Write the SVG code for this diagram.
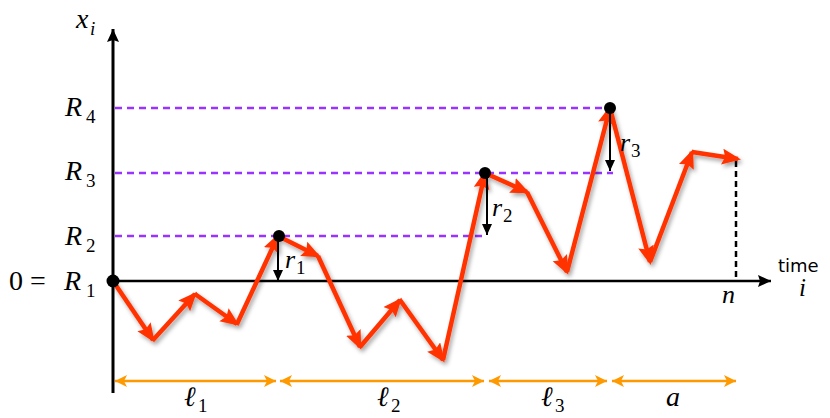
<svg xmlns="http://www.w3.org/2000/svg" width="830" height="418" viewBox="0 0 830 418">
<style>
.dash{stroke:#9933ff;stroke-width:2.5;stroke-dasharray:7,5;fill:none}
.walk{stroke:#ff3300;stroke-width:4.5;fill:none;marker-end:url(#rh)}
.ax{stroke:#000;fill:none}
.dim{stroke:#ff9900;stroke-width:2.5;fill:none;marker-start:url(#oh);marker-end:url(#oh)}
.ra{stroke:#000;stroke-width:2;fill:none;marker-end:url(#bh)}
</style>
<defs>
<marker id="rh" markerUnits="userSpaceOnUse" markerWidth="22" markerHeight="18" refX="16" refY="8" orient="auto"><path d="M0,0 L19,8 L0,16 L3,8 z" fill="#ff3300"/></marker>
<marker id="bh" markerUnits="userSpaceOnUse" markerWidth="14" markerHeight="12" refX="11" refY="5" orient="auto"><path d="M0,0 L11,5 L0,10 z" fill="#000"/></marker>
<marker id="ah" markerUnits="userSpaceOnUse" markerWidth="16" markerHeight="14" refX="13" refY="6" orient="auto"><path d="M0,0 L13,6 L0,12 L2,6 z" fill="#000"/></marker>
<marker id="oh" markerUnits="userSpaceOnUse" markerWidth="16" markerHeight="14" refX="12" refY="6" orient="auto-start-reverse"><path d="M0,0 L12,6 L0,12 L3,6 z" fill="#ff9900"/></marker>
<filter id="sh" x="-10%" y="-10%" width="120%" height="130%"><feDropShadow dx="2" dy="3" stdDeviation="2" flood-color="#000" flood-opacity="0.35"/></filter>
</defs>

<g id="axes">
<line class="ax" x1="113" y1="393" x2="113" y2="29" stroke-width="3" marker-end="url(#ah)"/>
<line class="ax" x1="113" y1="281" x2="771" y2="281" stroke-width="2.5" marker-end="url(#ah)"/>
<g font-family="Liberation Serif, DejaVu Serif, serif" fill="#000">
<text x="76" y="28" font-size="28" font-style="italic">x</text><text x="90" y="35" font-size="19" font-style="italic">i</text>
<text x="799" y="296" font-size="25" font-style="italic">i</text>
</g>
<text x="778" y="272" font-family="DejaVu Sans, Liberation Sans, sans-serif" font-size="18">time</text>
</g>

<g id="levels">
<line class="dash" x1="115" y1="108" x2="610" y2="108"/>
<line class="dash" x1="115" y1="173" x2="613" y2="173"/>
<line class="dash" x1="115" y1="236" x2="487" y2="236"/>
<g font-family="Liberation Serif, DejaVu Serif, serif" fill="#000">
<text x="65" y="116" font-size="28" font-style="italic">R</text><text x="86" y="123" font-size="19">4</text>
<text x="65" y="180" font-size="28" font-style="italic">R</text><text x="86" y="187" font-size="19">3</text>
<text x="65" y="245" font-size="28" font-style="italic">R</text><text x="86" y="252" font-size="19">2</text>
<text x="9" y="290" font-size="28">0</text><text x="30" y="290" font-size="28">=</text>
<text x="64" y="290" font-size="28" font-style="italic">R</text><text x="86" y="297" font-size="19">1</text>
</g>
</g>

<g id="walk" filter="url(#sh)">
<path class="walk" d="M113,281 L153,340"/>
<path class="walk" d="M153,340 L195,294"/>
<path class="walk" d="M195,294 L237,324"/>
<path class="walk" d="M237,324 L278,236"/>
<path class="walk" d="M278,236 L318,256"/>
<path class="walk" d="M318,256 L360,347"/>
<path class="walk" d="M360,347 L400,300"/>
<path class="walk" d="M400,300 L443,360"/>
<path class="walk" d="M443,360 L485,173"/>
<path class="walk" d="M485,173 L527,192"/>
<path class="walk" d="M527,192 L567,272"/>
<path class="walk" d="M567,272 L610,108"/>
<path class="walk" d="M610,108 L650,262"/>
<path class="walk" d="M650,262 L692,152"/>
<path class="walk" d="M692,152 L738,159"/>
</g>

<g id="records">
<circle cx="113" cy="281" r="6.5" fill="#000"/>
<circle cx="279" cy="236" r="6" fill="#000"/>
<circle cx="485" cy="173" r="6" fill="#000"/>
<circle cx="610" cy="108" r="6" fill="#000"/>
</g>

<g id="ranges">
<line class="ra" x1="278" y1="240" x2="278" y2="281"/>
<line class="ra" x1="487" y1="177" x2="487" y2="235"/>
<line class="ra" x1="610" y1="112" x2="610" y2="171"/>
<g font-family="Liberation Serif, DejaVu Serif, serif" fill="#000">
<text x="285" y="268" font-size="26" font-style="italic">r</text><text x="296" y="274" font-size="19">1</text>
<text x="492" y="216" font-size="26" font-style="italic">r</text><text x="503" y="222" font-size="19">2</text>
<text x="620" y="151" font-size="26" font-style="italic">r</text><text x="631" y="157" font-size="19">3</text>
</g>
</g>

<g id="end">
<line x1="736" y1="161" x2="736" y2="281" stroke="#000" stroke-width="2.5" stroke-dasharray="6,4"/>
<text x="722" y="303" font-family="Liberation Serif, DejaVu Serif, serif" font-size="26" font-style="italic">n</text>
</g>

<g id="lengths">
<line class="dim" x1="115" y1="381" x2="276" y2="381"/>
<line class="dim" x1="280" y1="381" x2="484" y2="381"/>
<line class="dim" x1="489" y1="381" x2="607" y2="381"/>
<line class="dim" x1="612" y1="381" x2="736" y2="381"/>
<g font-family="Liberation Serif, DejaVu Serif, serif" fill="#000">
<text x="184" y="406" font-size="28" font-style="italic">ℓ</text><text x="198" y="412" font-size="19">1</text>
<text x="377" y="406" font-size="28" font-style="italic">ℓ</text><text x="391" y="412" font-size="19">2</text>
<text x="541" y="406" font-size="28" font-style="italic">ℓ</text><text x="555" y="412" font-size="19">3</text>
<text x="666" y="406" font-size="28" font-style="italic">a</text>
</g>
</g>
</svg>
